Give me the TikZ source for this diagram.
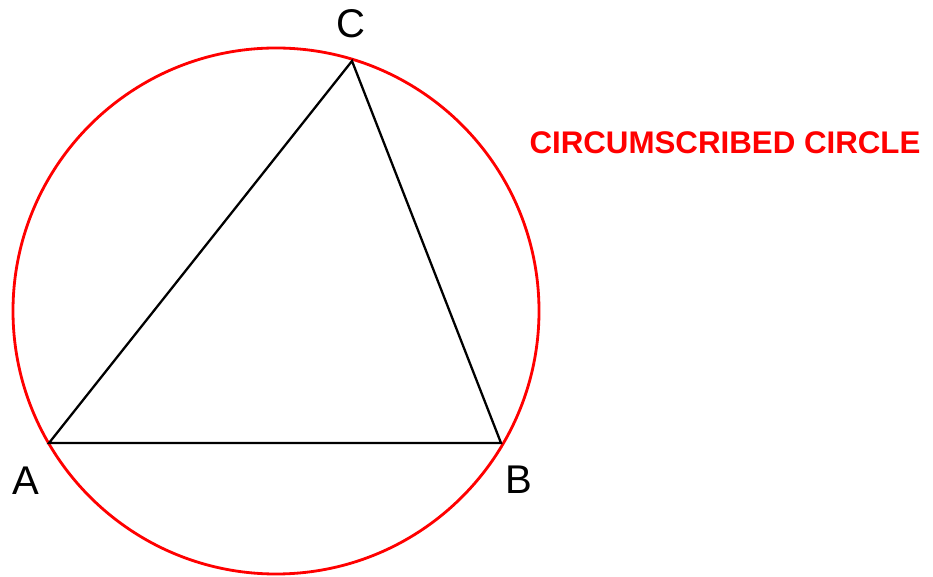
\documentclass[tikz,border=0pt]{standalone}
\usepackage{fontspec}
\setmainfont{Liberation Sans}
\begin{document}
\begin{tikzpicture}[
    triEdge/.style={black,line width=1.3pt,line join=miter},
    circEdge/.style={red,line width=1.6pt},
    vtxLabel/.style={inner sep=0pt,font=\fontsize{22.8}{24}\selectfont},
    circLabel/.style={inner sep=0pt,text=red,font=\fontsize{17.8}{20}\selectfont\bfseries},
]
\useasboundingbox (0,0) rectangle (18.66,11.52);
\coordinate (triA) at (0.98,2.66);
\coordinate (triB) at (10.02,2.66);
\coordinate (triC) at (7.04,10.30);
\coordinate (circO) at (5.52,5.30);
\draw[circEdge] (circO) circle (5.26);
\draw[triEdge] (triA) -- (triB) -- (triC) -- cycle;
% vertex names
\node[vtxLabel] (labA) at (0.52,1.90) {A};
\node[vtxLabel] (labB) at (10.38,1.92) {B};
\node[vtxLabel] (labC) at (7.02,11.04) {C};
\node[circLabel] (labCirc) at (14.50,8.66) {CIRCUMSCRIBED CIRCLE};
\end{tikzpicture}
\end{document}
